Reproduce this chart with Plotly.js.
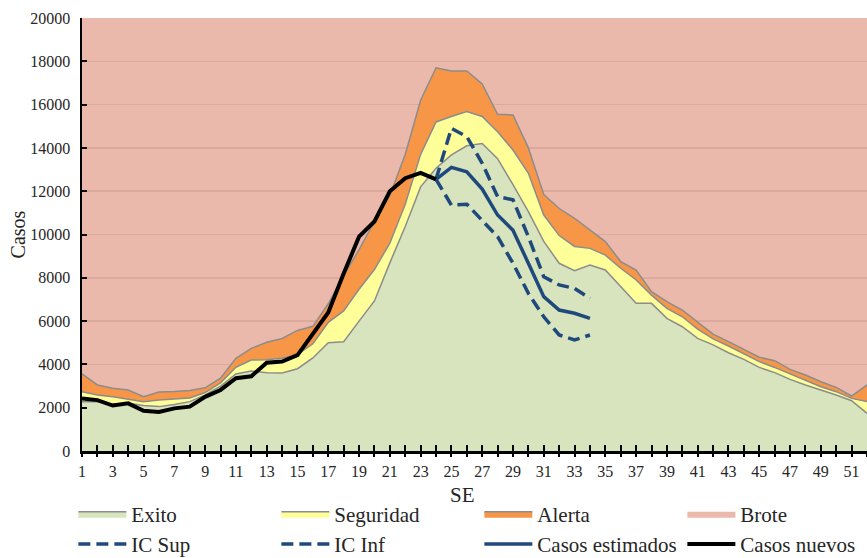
<!DOCTYPE html>
<html><head><meta charset="utf-8">
<script src="https://cdn.plot.ly/plotly-3.0.1.min.js"></script>
<style>html,body{margin:0;padding:0;background:#fff}#chart{width:867px;height:558px}</style>
</head><body><div id="chart"></div>
<script>
const weeks = [1,2,3,4,5,6,7,8,9,10,11,12,13,14,15,16,17,18,19,20,21,22,23,24,25,26,27,28,29,30,31,32,33,34,35,36,37,38,39,40,41,42,43,44,45,46,47,48,49,50,51,52];
const exito = [2280,2280,2170,2200,2100,2050,2150,2280,2590,3000,3560,3700,3620,3600,3800,4300,5000,5050,6000,6930,8690,10370,12200,13060,13680,14100,14200,13500,12300,11060,9680,8670,8330,8590,8360,7590,6820,6820,6130,5740,5200,4900,4540,4230,3860,3620,3310,3050,2820,2590,2320,1740];
const seguridad = [2740,2590,2510,2390,2280,2350,2400,2450,2700,3150,3870,4200,4220,4280,4450,4950,5940,6470,7470,8380,9600,11400,13700,15200,15450,15680,15450,14750,13900,12830,10900,9950,9450,9360,9050,8440,7900,7200,6590,6200,5630,5180,4850,4480,4130,3860,3560,3280,2970,2740,2430,2280];
const alerta = [3560,3050,2900,2820,2510,2720,2750,2800,2920,3360,4280,4740,5020,5200,5570,5760,6800,8100,9300,10600,11800,13700,16200,17700,17550,17550,16950,15550,15520,14000,11850,11200,10750,10200,9670,8750,8360,7360,6900,6510,5950,5400,5050,4670,4330,4170,3770,3510,3200,2940,2540,3050];
const brote = [20000,20000,20000,20000,20000,20000,20000,20000,20000,20000,20000,20000,20000,20000,20000,20000,20000,20000,20000,20000,20000,20000,20000,20000,20000,20000,20000,20000,20000,20000,20000,20000,20000,20000,20000,20000,20000,20000,20000,20000,20000,20000,20000,20000,20000,20000,20000,20000,20000,20000,20000,20000];
const nuevosWeeks = [1,2,3,4,5,6,7,8,9,10,11,12,13,14,15,16,17,18,19,20,21,22,23,24];
const casosNuevos = [2430,2350,2100,2200,1860,1800,1970,2050,2500,2820,3360,3450,4080,4130,4430,5450,6400,8200,9900,10600,12000,12600,12850,12550];
const estWeeks = [24,25,26,27,28,29,30,31,32,33,34];
const casosEstimados = [12550,13100,12900,12100,10900,10200,8670,7130,6510,6360,6130];
const icSup = [12550,14900,14520,13290,11750,11600,9900,8050,7670,7510,7050];
const icInf = [12550,11360,11400,10670,9900,8670,7280,6200,5360,5130,5360];

const outline = {color:'#8C8C8C', width:1.5};
const blue = '#1F497D';
const traces = [
  {name:'Exito', x:weeks, y:exito, type:'scatter', mode:'lines', fill:'tozeroy', fillcolor:'#D7E4BD', line:outline, hoverinfo:'skip'},
  {name:'Seguridad', x:weeks, y:seguridad, type:'scatter', mode:'lines', fill:'tonexty', fillcolor:'#FFFF99', line:outline, hoverinfo:'skip'},
  {name:'Alerta', x:weeks, y:alerta, type:'scatter', mode:'lines', fill:'tonexty', fillcolor:'#F79646', line:outline, hoverinfo:'skip'},
  {name:'Brote', x:weeks, y:brote, type:'scatter', mode:'lines', fill:'tonexty', fillcolor:'rgba(222,138,115,0.6)', line:{width:0, color:'rgba(0,0,0,0)'}, hoverinfo:'skip'},
  {name:'IC Sup', x:estWeeks, y:icSup, type:'scatter', mode:'lines', line:{color:blue, width:3.5, dash:'12px,6px'}},
  {name:'IC Inf', x:estWeeks, y:icInf, type:'scatter', mode:'lines', line:{color:blue, width:3.5, dash:'12px,6px'}},
  {name:'Casos estimados', x:estWeeks, y:casosEstimados, type:'scatter', mode:'lines', line:{color:blue, width:3.5}},
  {name:'Casos nuevos', x:nuevosWeeks, y:casosNuevos, type:'scatter', mode:'lines', line:{color:'#000000', width:4}, xaxis:'x2'}
];

const layout = {
  width:867, height:558,
  margin:{l:82, r:0, t:18, b:107, autoexpand:false},
  paper_bgcolor:'#ffffff', plot_bgcolor:'#ffffff',
  font:{family:'Liberation Serif, serif', color:'#262626', size:16},
  showlegend:true,
  xaxis:{range:[1,52], tickmode:'linear', tick0:1, dtick:2, ticks:'inside', ticklen:6, tickwidth:2, tickcolor:'#000',
    showline:true, linecolor:'#000', linewidth:3, showgrid:false, zeroline:false,
    minor:{tickmode:'linear', tick0:1, dtick:1, ticks:'inside', ticklen:6, tickwidth:2, tickcolor:'#000', showgrid:false},
    tickfont:{size:16}, ticklabelstandoff:4, layer:'above traces', fixedrange:true},
  xaxis2:{matches:'x', overlaying:'x', anchor:'y', tickmode:'linear', tick0:1, dtick:1, ticks:'outside', ticklen:5, tickwidth:2, tickcolor:'#000',
    showticklabels:false, showgrid:false, zeroline:false, showline:false, layer:'above traces', fixedrange:true},
  yaxis:{range:[0,20000], tickmode:'linear', tick0:0, dtick:2000, tickformat:'d', ticks:'inside', ticklen:5, tickwidth:2, tickcolor:'#000',
    showline:true, linecolor:'#000', linewidth:2.5, showgrid:true, gridcolor:'#d9d9d9', gridwidth:1.5, zeroline:false,
    tickfont:{size:16}, ticklabelstandoff:6, title:{text:'Casos', font:{size:20}, standoff:0}, layer:'above traces', fixedrange:true},
  annotations:[{text:'SE', xref:'paper', yref:'paper', x:0.485, y:-0.1016, xanchor:'center', yanchor:'middle', showarrow:false, font:{size:21}}],
  legend:{orientation:'h', x:-0.011, xanchor:'left', y:-0.0985, yanchor:'top', entrywidth:140, entrywidthmode:'pixels',
    itemwidth:48, font:{size:21}, bgcolor:'rgba(0,0,0,0)', traceorder:'normal', itemclick:false, itemdoubleclick:false}
};
Plotly.newPlot('chart', traces, layout, {displayModeBar:false, staticPlot:true});
</script></body></html>
